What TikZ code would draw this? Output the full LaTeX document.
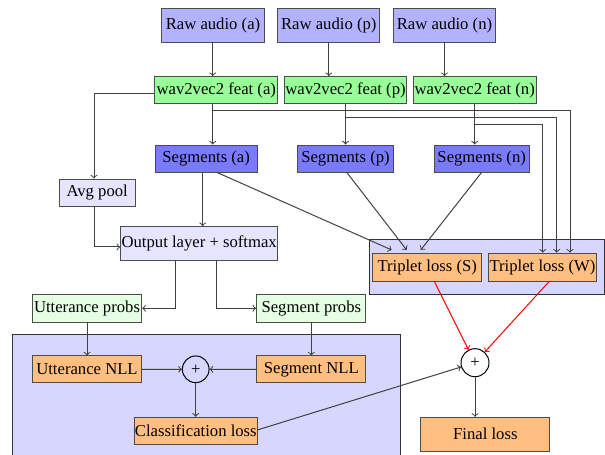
\documentclass[tikz,border=0pt]{standalone}
\usepackage{fontspec}
\setmainfont{Liberation Serif}
\begin{document}
\begin{tikzpicture}[x=0.6pt,y=-0.6pt,
  box/.style={draw=black!70,line width=0.6pt,inner sep=0pt,font=\fontsize{10}{12}\selectfont},
  raw/.style={box,fill=blue!30},
  wav/.style={box,fill=green!40},
  seg/.style={box,fill=blue!52},
  lav/.style={box,fill=blue!10},
  prob/.style={box,fill=green!10},
  loss/.style={box,fill=orange!50},
  bg/.style={draw=black!80,line width=0.6pt,fill=blue!16},
  plus/.style={circle,draw=black,line width=0.6pt,inner sep=0pt,font=\fontsize{10}{12}\selectfont},
  arr/.style={->,draw=black!75,line width=0.6pt},
  redarr/.style={->,draw=red,line width=0.6pt}]
\useasboundingbox (0,0) rectangle (605,455);
% backgrounds
\path[bg] (369.7,240) rectangle (604.3,294.3);
\path[bg] (12.3,335) rectangle (400,480);
% nodes
\node[raw,minimum width=61.6pt,minimum height=20.6pt] (rawa) at (213,25.5) {Raw audio (a)};
\node[raw,minimum width=61.4pt,minimum height=20.6pt] (rawp) at (328.8,25.5) {Raw audio (p)};
\node[raw,minimum width=61.4pt,minimum height=20.6pt] (rawn) at (444.5,25.5) {Raw audio (n)};
\node[wav,minimum width=73.6pt,minimum height=16.4pt] (wava) at (216.3,90.3) {wav2vec2 feat (a)};
\node[wav,minimum width=73.4pt,minimum height=16.4pt] (wavp) at (345.5,90.3) {wav2vec2 feat (p)};
\node[wav,minimum width=73.6pt,minimum height=16.4pt] (wavn) at (474.7,90.3) {wav2vec2 feat (n)};
\node[seg,minimum width=61.4pt,minimum height=16.4pt] (sega) at (206.2,158.7) {Segments (a)};
\node[seg,minimum width=57.4pt,minimum height=16.4pt] (segp) at (345.5,158.7) {Segments (p)};
\node[seg,minimum width=57.2pt,minimum height=16.4pt] (segn) at (481.7,158.7) {Segments (n)};
\node[lav,minimum width=45.4pt,minimum height=16.4pt] (avg) at (97.2,192.7) {Avg pool};
\node[lav,minimum width=94.2pt,minimum height=20.2pt] (out) at (199.2,243.5) {Output layer + softmax};
\node[loss,minimum width=65.4pt,minimum height=16.6pt] (trs) at (427.2,267.5) {Triplet loss (S)};
\node[loss,minimum width=65pt,minimum height=16.6pt] (trw) at (542.5,267.5) {Triplet loss (W)};
\node[prob,minimum width=65.6pt,minimum height=16.8pt] (utt) at (87,308.3) {Utterance probs};
\node[prob,minimum width=65.6pt,minimum height=16.8pt] (sgp) at (311.3,308.3) {Segment probs};
\node[loss,minimum width=65.6pt,minimum height=16.2pt] (unll) at (87,369.5) {Utterance NLL};
\node[loss,minimum width=65.6pt,minimum height=16.2pt] (snll) at (311.3,369.5) {Segment NLL};
\node[plus,minimum size=16pt] (p1) at (195.7,369.3) {+};
\node[loss,minimum width=73.8pt,minimum height=16.2pt] (cls) at (195.8,430.8) {Classification loss};
\node[plus,minimum size=16.8pt] (p2) at (475,362.7) {+};
\node[loss,minimum width=77.6pt,minimum height=20.2pt] (fin) at (485.3,434.2) {Final loss};
% coordinates
\coordinate (a1) at (212.7,104);
\coordinate (a2) at (212.7,111);
\coordinate (p2a) at (345.7,117.3);
\coordinate (n2a) at (474.3,124.3);
\coordinate (wl) at (94,94);
\coordinate (ap) at (94,247);
\coordinate (o1) at (175.3,260.3);
\coordinate (o2) at (216.7,260.3);
\coordinate (sa) at (216.7,172.3);
\coordinate (sp) at (346.7,172.3);
\coordinate (sn) at (481.7,172.3);
\coordinate (ta) at (391.7,250);
\coordinate (tp) at (406.7,250);
\coordinate (tn) at (420.7,250);
\coordinate (ws) at (434.3,281.3);
\coordinate (ww) at (549.3,281.3);
\coordinate (cs) at (257.3,430);
% connectors
\draw[arr] (rawa.south -| a1) -- (wava.north -| a1);
\draw[arr] (rawp) -- (rawp |- wavp.north);
\draw[arr] (rawn) -- (rawn |- wavn.north);
\draw[arr] (a1) -- (sega.north -| a1);
\draw[arr] (wavp) -- (segp.north -| wavp);
\draw[arr] (wavn) -- (segn.north -| wavn);
\draw[arr] (a2) -- (570,111) -- (570,252.7);
\draw[arr] (p2a) -- (556.7,117.3) -- (556.7,252.7);
\draw[arr] (n2a) -- (542.7,124.3) -- (542.7,252.7);
\draw[arr] (wava.west |- wl) -- (wl) -- (avg.north -| wl);
\draw[arr] (avg.south -| ap) -- (ap) -- (out.west |- ap);
\draw[arr] (sega.south -| 202.7,0) -- (out.north -| 202.7,0);
\draw[arr] (sa) -- (ta);
\draw[arr] (sp) -- (tp);
\draw[arr] (sn) -- (tn);
\draw[arr] (o1) |- (utt.east);
\draw[arr] (o2) |- (sgp.west);
\draw[arr] (utt) -- (unll);
\draw[arr] (sgp) -- (snll);
\draw[arr] (unll) -- (p1);
\draw[arr] (snll) -- (p1);
\draw[arr] (p1) -- (cls.north -| p1);
\draw[arr] (cs) -- (p2);
\draw[redarr] (ws) -- (p2);
\draw[redarr] (ww) -- (p2);
\draw[arr] (p2) -- (fin.north -| p2);
\end{tikzpicture}
\end{document}
